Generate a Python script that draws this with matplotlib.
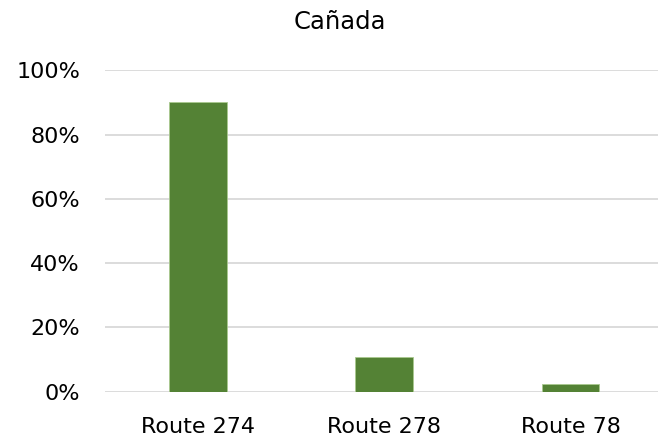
import matplotlib.pyplot as plt
from matplotlib.ticker import PercentFormatter

plt.rcParams['font.family'] = ['DejaVu Sans']

routes = ['Route 274', 'Route 278', 'Route 78']
shares = [0.902, 0.107, 0.023]

fig = plt.figure(figsize=(6.58, 4.40), dpi=100)
ax = fig.add_axes([105/658, 1 - 391.7/440, 553/658, 321.4/440])

ax.bar(range(len(routes)), shares, width=0.31, color='#548235',
       edgecolor='#a9c98f', linewidth=0.6, zorder=3)

ax.set_xlim(-0.5, 2.47)
ax.set_ylim(0, 1)
ax.set_yticks([0, 0.2, 0.4, 0.6, 0.8, 1.0])
ax.yaxis.set_major_formatter(PercentFormatter(1.0, decimals=0))
ax.set_xticks(range(len(routes)))
ax.set_xticklabels(routes)
ax.grid(axis='y', color='#d9d9d9', linewidth=1.3, zorder=0)
ax.tick_params(axis='both', length=0, labelsize=16, colors='black')
ax.tick_params(axis='y', pad=18)
ax.tick_params(axis='x', pad=18)
for s in ax.spines.values():
    s.set_visible(False)

fig.text(340/658, 1 - 22/440, 'Cañada', ha='center', va='center', fontsize=17.5)

fig.savefig('out.png', dpi=100)
